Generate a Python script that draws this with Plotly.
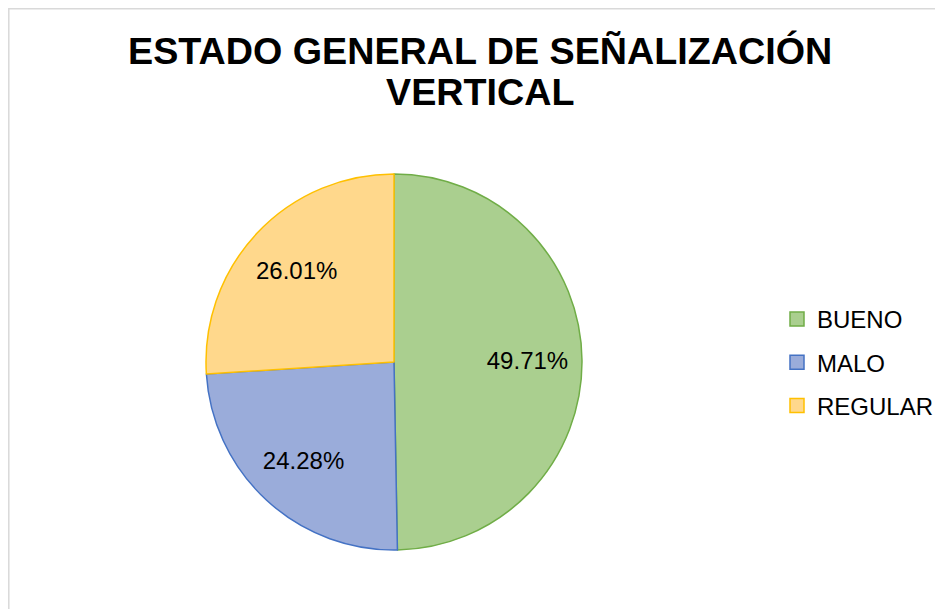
import plotly.graph_objects as go

# Data
categories = ["BUENO", "MALO", "REGULAR"]
counts = [172, 84, 90]  # 49.71%, 24.28%, 26.01%
fill_colors = ["#AACF8F", "#9AACDA", "#FFD88C"]
line_colors = ["#70AD47", "#4472C4", "#FFC000"]
title_lines = ["ESTADO GENERAL DE SEÑALIZACIÓN", "VERTICAL"]

W, H = 943, 609
OFF = 8  # page body margin offset in the screenshot
FONT = "Liberation Sans, Arial, sans-serif"


def px(x):
    return (x - OFF) / W


def py(y):
    return 1 - (y - OFF) / H


CX, CY, R = 394, 362, 188
pie_domain = dict(x=[px(CX - R), px(CX + R)], y=[py(CY + R), py(CY - R)])

fig = go.Figure()

# Slices
fig.add_trace(go.Pie(
    labels=categories,
    values=counts,
    sort=False,
    direction="clockwise",
    rotation=0,
    marker=dict(colors=fill_colors, line=dict(color=line_colors, width=1.5)),
    textinfo="none",
    showlegend=False,
    hoverinfo="label+percent",
    domain=pie_domain,
))

# Percentage labels (transparent ring so labels sit at ~70% radius)
fig.add_trace(go.Pie(
    labels=categories,
    values=counts,
    sort=False,
    direction="clockwise",
    rotation=0,
    hole=0.42,
    marker=dict(colors=["rgba(0,0,0,0)"] * len(categories), line=dict(width=0)),
    texttemplate="%{percent:.2%}",
    textposition="inside",
    insidetextorientation="horizontal",
    textfont=dict(family=FONT, size=24, color="black"),
    showlegend=False,
    hoverinfo="skip",
    domain=pie_domain,
))

# Legend entries (one per category)
for cat, fc, lc in zip(categories, fill_colors, line_colors):
    fig.add_trace(go.Scatter(
        x=[None], y=[None], mode="markers", name=cat,
        legendgroup=cat,
        marker=dict(symbol="square", size=14, color=fc, line=dict(color=lc, width=1.5)),
    ))

annotations = []
for txt, ypx in zip(title_lines, [51.5, 91.5]):
    annotations.append(dict(
        text=f"<b>{txt}</b>", x=px(480.5), y=py(ypx), xref="paper", yref="paper",
        xanchor="center", yanchor="middle", showarrow=False,
        font=dict(family=FONT, size=37.7, color="black"),
    ))

fig.update_layout(
    width=W, height=H,
    margin=dict(l=0, r=0, t=0, b=0),
    paper_bgcolor="white", plot_bgcolor="white",
    xaxis=dict(visible=False), yaxis=dict(visible=False),
    annotations=annotations,
    showlegend=True,
    legend=dict(
        x=px(777), y=py(297), xanchor="left", yanchor="top",
        font=dict(family=FONT, size=24, color="black"),
        tracegroupgap=9, traceorder="grouped",
        itemwidth=30, bgcolor="rgba(0,0,0,0)",
    ),
    shapes=[dict(type="rect", xref="paper", yref="paper",
                 x0=0.8 / W, x1=1.05, y0=-0.05, y1=1 - 0.8 / H,
                 line=dict(color="#D9D9D9", width=1.5), fillcolor="rgba(0,0,0,0)",
                 layer="below")],
)

fig.write_html("out.html")
